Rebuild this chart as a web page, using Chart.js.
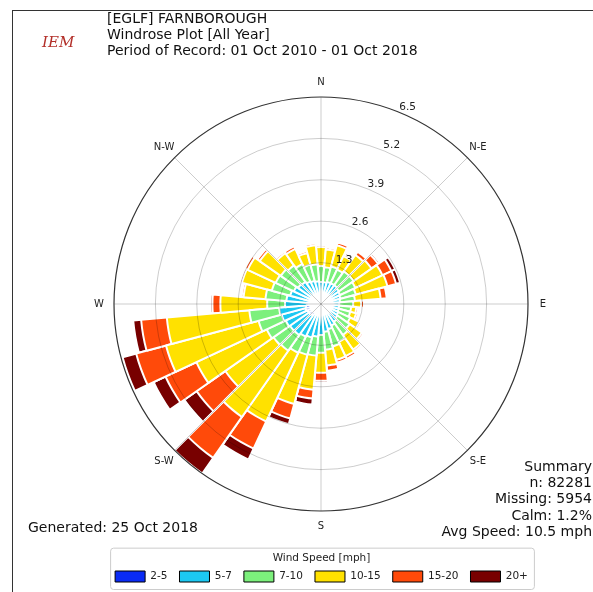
<!DOCTYPE html>
<html>
<head>
<meta charset="utf-8">
<script src="https://cdn.jsdelivr.net/npm/chart.js@4.4.0/dist/chart.umd.min.js"></script>
<style>
  html, body { margin: 0; padding: 0; background: #fff; }
  body { width: 593px; height: 592px; position: relative; overflow: hidden; font-family: "DejaVu Sans", sans-serif; color: #111; }
  #myChart { position: absolute; left: 0; top: 0; }
  .frame { position: absolute; left: 12px; top: 10px; right: -2px; bottom: -2px; border-left: 1px solid #333; border-top: 1px solid #333; }
  .txt { position: absolute; font-size: 14px; line-height: 16px; white-space: nowrap; }
  #head { left: 107px; top: 10px; }
  #summary { right: 1px; top: 458px; text-align: right; line-height: 16.2px; }
  #gen { left: 28px; top: 519px; }
  #logo { position: absolute; left: 42px; top: 33px; font: italic 15px "DejaVu Serif", serif; color: #b3302a; }
</style>
</head>
<body>
<div class="frame"></div>
<canvas id="myChart" width="593" height="592"></canvas>
<div id="logo">IEM</div>
<div class="txt" id="head">[EGLF] FARNBOROUGH<br>Windrose Plot [All Year]<br>Period of Record: 01 Oct 2010 - 01 Oct 2018</div>
<div class="txt" id="summary">Summary<br>n: 82281<br>Missing: 5954<br>Calm: 1.2%<br>Avg Speed: 10.5 mph</div>
<div class="txt" id="gen">Generated: 25 Oct 2018</div>
<script>
const ctx = document.getElementById('myChart')

// direction bins, degrees from north
const directions = [0, 10, 20, 30, 40, 50, 60, 70, 80, 90, 100, 110, 120, 130, 140, 150, 160, 170,
                    180, 190, 200, 210, 220, 230, 240, 250, 260, 270, 280, 290, 300, 310, 320, 330, 340, 350]
const compassNames = ["N", "N-E", "E", "S-E", "S", "S-W", "W", "N-W"]
const ringTicks = [1.3, 2.6, 3.9, 5.2, 6.5]
const speedLabels = ["2-5", "5-7", "7-10", "10-15", "15-20", "20+"]
const speedColors = ['#0a2bf5', '#1cc8f2', '#7cf07c', '#ffe100', '#ff4a0a', '#780000']

// percent of observations per direction, one array per speed bin
const speed2to5 = [0.22, 0.22, 0.22, 0.22, 0.22, 0.22, 0.19, 0.19, 0.19, 0.19, 0.19, 0.19, 0.19, 0.19, 0.19, 0.22, 0.22, 0.25,
                   0.28, 0.31, 0.34, 0.38, 0.44, 0.47, 0.47, 0.50, 0.47, 0.38, 0.31, 0.28, 0.25, 0.25, 0.22, 0.22, 0.22, 0.22]
const speed5to7 = [0.47, 0.47, 0.50, 0.50, 0.50, 0.47, 0.47, 0.44, 0.41, 0.38, 0.38, 0.38, 0.41, 0.44, 0.50, 0.53, 0.60, 0.63,
                   0.69, 0.72, 0.75, 0.75, 0.75, 0.72, 0.75, 0.78, 0.85, 0.75, 0.78, 0.72, 0.69, 0.63, 0.63, 0.56, 0.53, 0.50]
const speed7to10 = [0.50, 0.47, 0.50, 0.47, 0.53, 0.56, 0.53, 0.50, 0.47, 0.44, 0.38, 0.38, 0.41, 0.47, 0.50, 0.56, 0.56, 0.56,
                    0.56, 0.60, 0.56, 0.56, 0.60, 0.63, 0.66, 0.75, 0.94, 0.56, 0.66, 0.60, 0.63, 0.66, 0.63, 0.60, 0.53, 0.53]
const speed10to15 = [0.60, 0.56, 0.69, 0.47, 0.63, 0.69, 0.94, 1.03, 0.81, 0.25, 0.16, 0.19, 0.31, 0.47, 0.56, 0.50, 0.44, 0.50,
                     0.63, 1.07, 1.60, 2.38, 2.54, 1.85, 2.44, 3.01, 2.60, 1.47, 0.69, 0.97, 0.97, 0.81, 0.47, 0.53, 0.38, 0.60]
const speed15to20 = [0.06, 0.06, 0.09, 0.06, 0.13, 0.25, 0.31, 0.28, 0.19, 0.09, 0.06, 0.06, 0.06, 0.06, 0.06, 0.09, 0.09, 0.16,
                     0.25, 0.28, 0.47, 0.94, 1.57, 1.10, 1.07, 0.97, 0.81, 0.25, 0.06, 0.06, 0.09, 0.09, 0.06, 0.09, 0.06, 0.06]
const speed20plus = [0.02, 0.02, 0.03, 0.06, 0.03, 0.06, 0.13, 0.13, 0.03, 0.02, 0.01, 0.01, 0.01, 0.01, 0.02, 0.02, 0.02, 0.03,
                     0.06, 0.19, 0.19, 0.38, 0.60, 0.47, 0.41, 0.44, 0.25, 0.06, 0.02, 0.02, 0.02, 0.02, 0.02, 0.02, 0.02, 0.02]

const speedBins = [speed2to5, speed5to7, speed7to10, speed10to15, speed15to20, speed20plus]

// polar area does not stack, so each dataset holds the running total and the
// smaller ones are drawn on top (dataset 0 is painted last)
let running = directions.map(() => 0)
const datasets = speedLabels.map((label, k) => {
    running = running.map((v, i) => v + speedBins[k][i])
    return {
        label: label,
        data: running.slice(),
        backgroundColor: speedColors[k],
        borderColor: '#ffffff',
        borderWidth: 2
    }
})

const LEGEND_FONT = 10.5
const TITLE_PAD_TOP = 42

const compassPlugin = {
    id: 'compass',
    afterDatasetsDraw(chart) {
        const r = chart.scales.r
        const c = chart.ctx
        const rMax = r.getDistanceFromCenterForValue(r.max)
        c.save()
        c.strokeStyle = 'rgba(0,0,0,0.2)'
        c.lineWidth = 1
        compassNames.forEach((name, i) => {
            const a = i * Math.PI / 4
            c.beginPath()
            c.moveTo(r.xCenter, r.yCenter)
            c.lineTo(r.xCenter + Math.sin(a) * rMax, r.yCenter - Math.cos(a) * rMax)
            c.stroke()
        })
        c.fillStyle = '#222'
        c.font = '10px "DejaVu Sans"'
        c.textAlign = 'center'
        c.textBaseline = 'middle'
        compassNames.forEach((name, i) => {
            const a = i * Math.PI / 4
            const d = rMax + 15
            c.fillText(name, r.xCenter + Math.sin(a) * d, r.yCenter - Math.cos(a) * d)
        })
        // radial tick labels along 22.5 degrees
        c.textAlign = 'left'
        c.textBaseline = 'bottom'
        c.font = '10.5px "DejaVu Sans"'
        const ta = Math.PI / 8
        ringTicks.forEach(v => {
            const d = r.getDistanceFromCenterForValue(v)
            c.fillText(v.toFixed(1), r.xCenter + Math.sin(ta) * d - 1, r.yCenter - Math.cos(ta) * d)
        })
        c.restore()
    },
    afterDraw(chart) {
        const lg = chart.legend
        const boxes = lg.legendHitBoxes
        if (!boxes || !boxes.length) return
        const last = boxes[boxes.length - 1]
        const left = boxes[0].left - 5
        const right = last.left + last.width + 6
        const top = lg.top + TITLE_PAD_TOP + LEGEND_FONT / 2 - 11
        const bottom = boxes[0].top + boxes[0].height + 7
        const c = chart.ctx
        c.save()
        c.strokeStyle = '#cccccc'
        c.lineWidth = 1
        c.beginPath()
        c.roundRect(left + 0.5, top + 0.5, right - left, bottom - top, 3)
        c.stroke()
        c.restore()
    }
}

new Chart(ctx, {
    type: 'polarArea',
    data: {
        labels: directions.map(d => d + '°'),
        datasets: datasets
    },
    plugins: [compassPlugin],
    options: {
        responsive: false,
        animation: false,
        layout: {
            padding: { left: 61, right: 11, top: 97, bottom: 0 }
        },
        plugins: {
            tooltip: { enabled: false },
            legend: {
                position: 'bottom',
                onClick: () => {},
                title: {
                    display: true,
                    text: 'Wind Speed [mph]',
                    color: '#222',
                    font: { family: 'DejaVu Sans', size: LEGEND_FONT },
                    padding: { top: TITLE_PAD_TOP, bottom: -7 }
                },
                labels: {
                    boxWidth: 30,
                    boxHeight: 11,
                    padding: 12,
                    color: '#222',
                    font: { family: 'DejaVu Sans', size: LEGEND_FONT },
                    generateLabels: (chart) => chart.data.datasets.map((ds, i) => ({
                        text: ds.label,
                        fillStyle: ds.backgroundColor,
                        strokeStyle: '#000',
                        lineWidth: 1,
                        hidden: false,
                        datasetIndex: i
                    }))
                }
            }
        },
        scales: {
            r: {
                min: 0,
                max: 6.5,
                startAngle: -5,
                afterBuildTicks: (scale) => {
                    scale.ticks = [0, ...ringTicks].map(v => ({ value: v }))
                },
                ticks: { display: false },
                pointLabels: { display: false },
                angleLines: { display: false },
                grid: {
                    z: 1,
                    circular: true,
                    color: (c) => c.tick && c.tick.value >= 6.5 ? '#333' : 'rgba(0,0,0,0.2)',
                    lineWidth: (c) => c.tick && c.tick.value >= 6.5 ? 1.2 : 1
                }
            }
        }
    }
})
</script>
</body>
</html>
